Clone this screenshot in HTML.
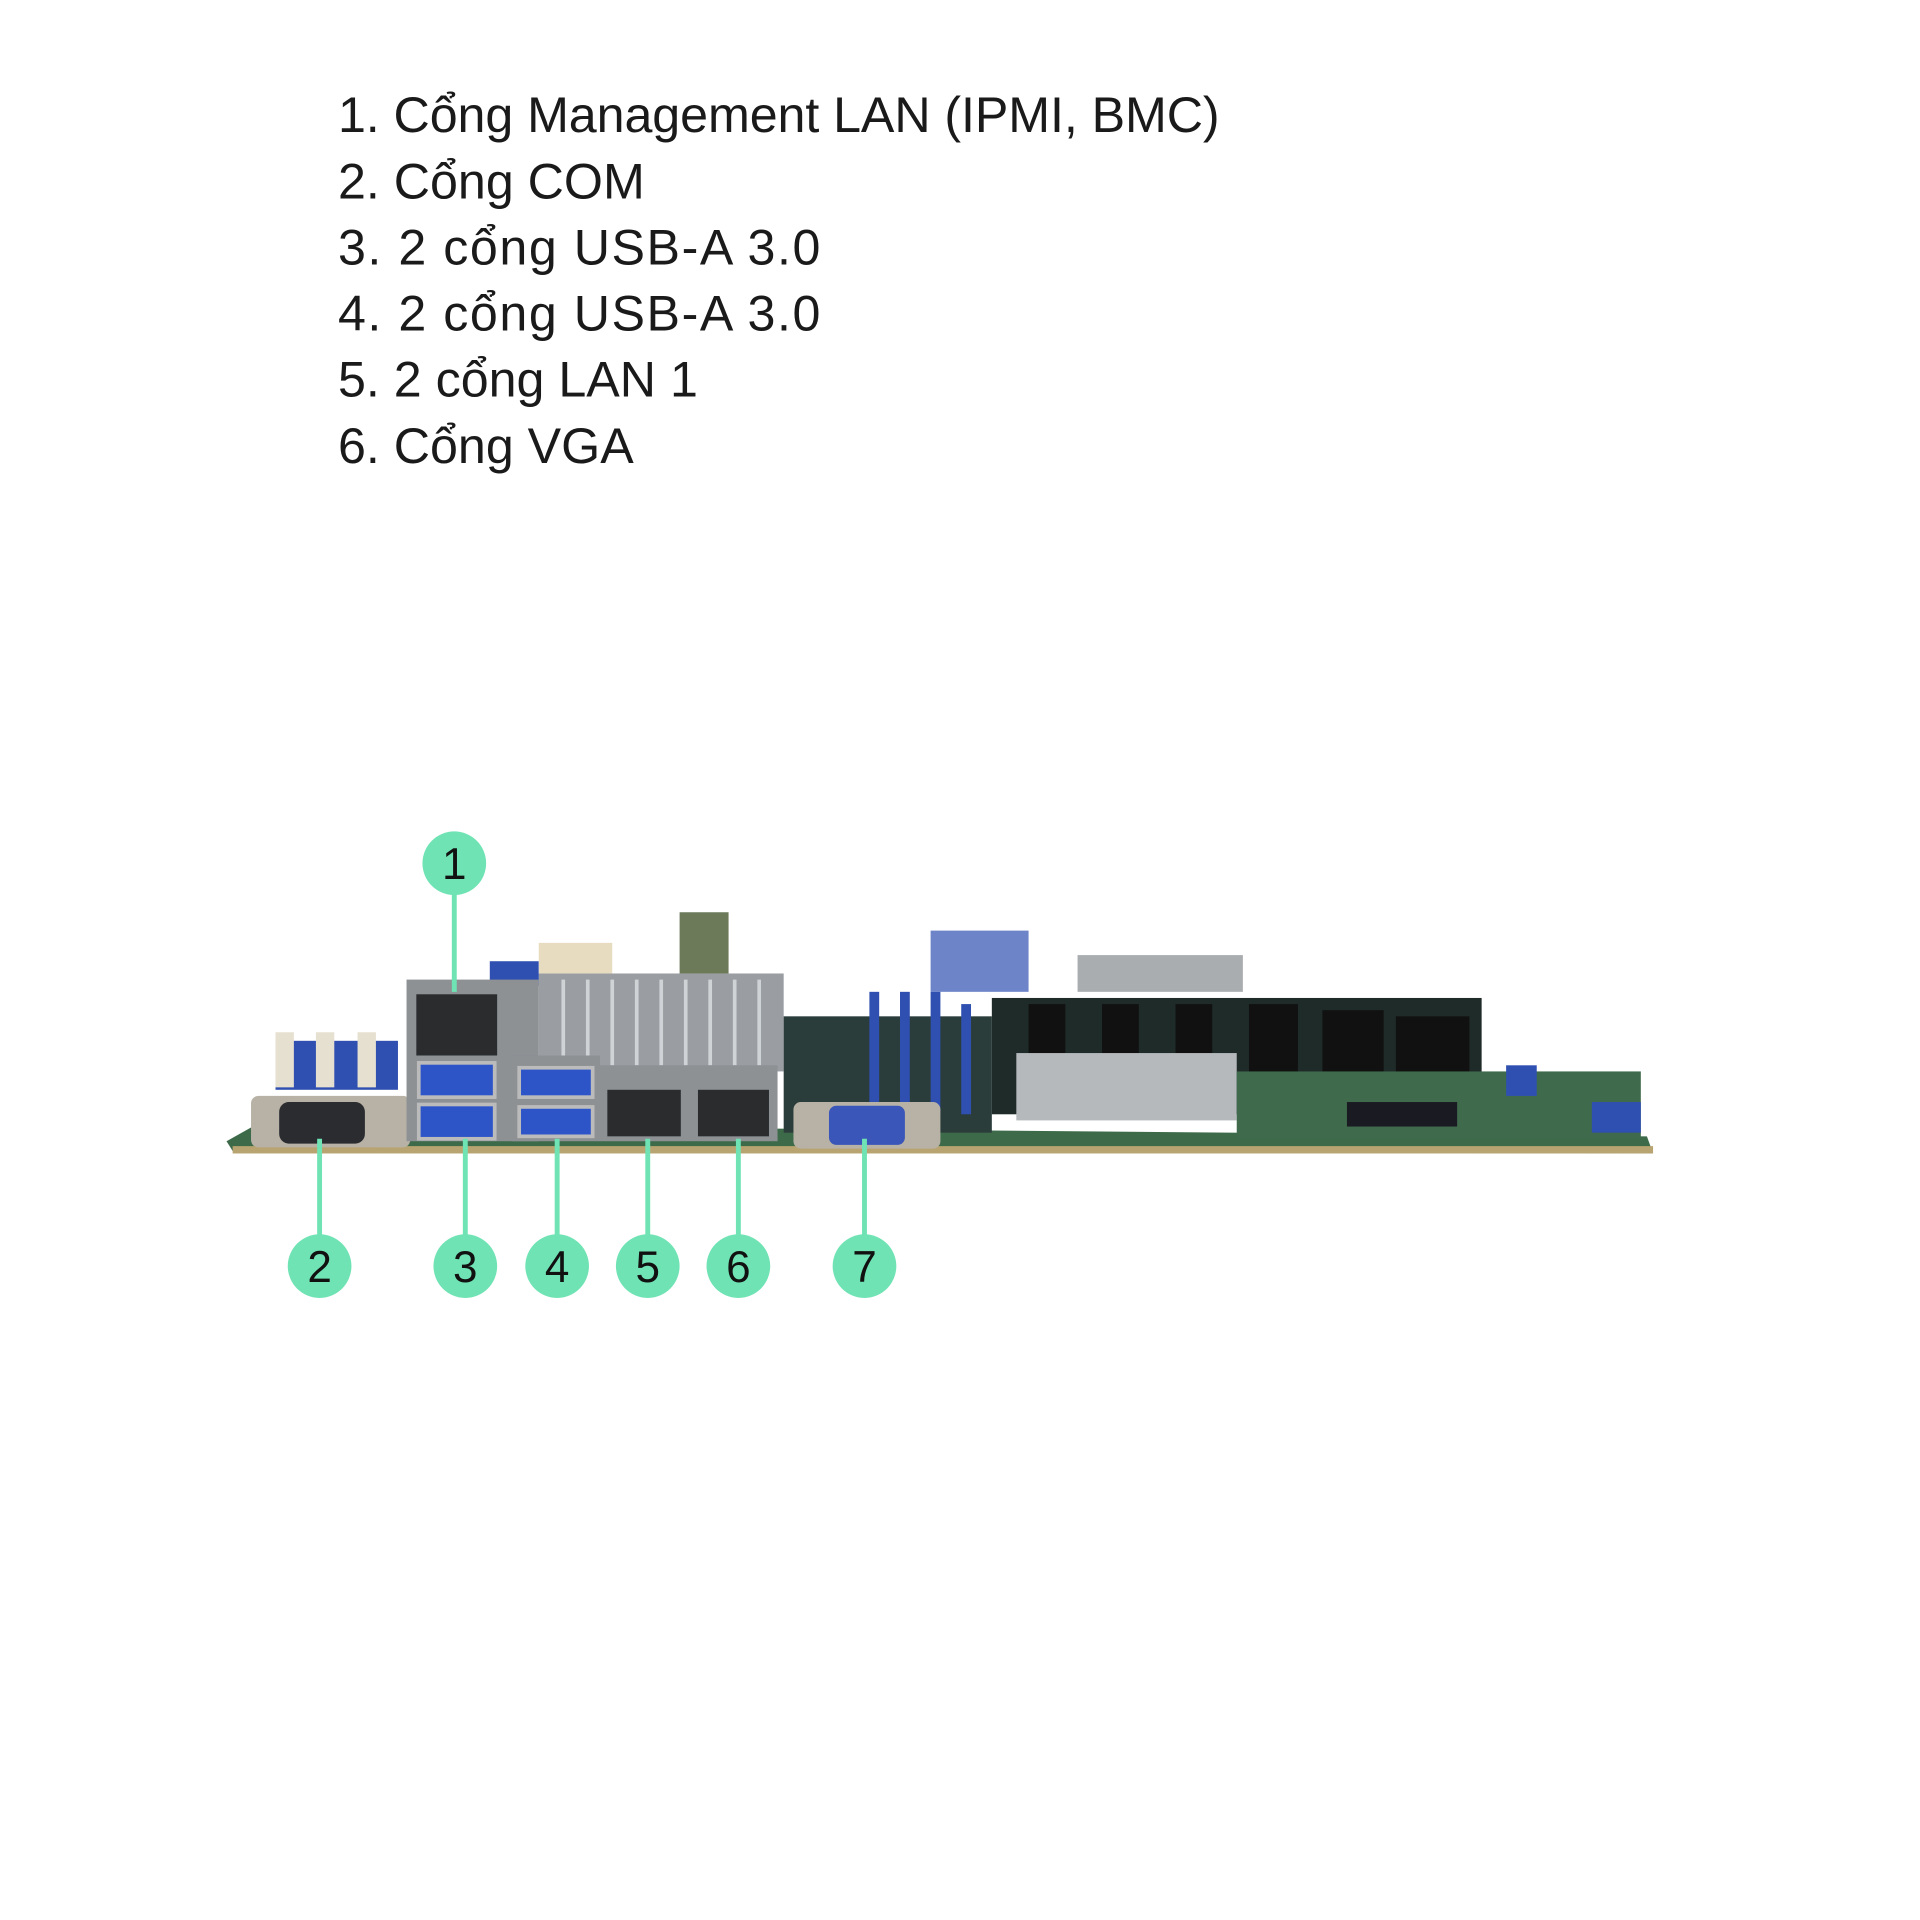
<!DOCTYPE html>
<html><head><meta charset="utf-8"><style>html,body{margin:0;padding:0;background:#fff}svg{display:block}</style></head>
<body>
<svg width="1920" height="1920" viewBox="0 0 1568 1568" xmlns="http://www.w3.org/2000/svg">
<rect width="1568" height="1568" fill="#fff"/>
<g font-family="Liberation Sans, DejaVu Sans, sans-serif" font-size="41" fill="#1a1a1a">
<text x="276" y="108" textLength="720">1. Cổng Management LAN (IPMI, BMC)</text>
<text x="276" y="162">2. Cổng COM</text>
<text x="276" y="216" textLength="394">3. 2 cổng USB-A 3.0</text>
<text x="276" y="270" textLength="394">4. 2 cổng USB-A 3.0</text>
<text x="276" y="324">5. 2 cổng LAN 1</text>
<text x="276" y="378">6. Cổng VGA</text>
</g>
<polygon points="185,932 210,918 1345,928 1350,942 190,940" fill="#3d6b4a"/>
<rect x="190" y="936" width="1160" height="6" fill="#b8a470"/>
<rect x="440" y="795" width="200" height="80" fill="#9a9ea3"/>
<g stroke="#cfd3d6" stroke-width="3">
<line x1="460" y1="800" x2="460" y2="870"/><line x1="480" y1="800" x2="480" y2="870"/><line x1="500" y1="800" x2="500" y2="870"/><line x1="520" y1="800" x2="520" y2="870"/><line x1="540" y1="800" x2="540" y2="870"/><line x1="560" y1="800" x2="560" y2="870"/><line x1="580" y1="800" x2="580" y2="870"/><line x1="600" y1="800" x2="600" y2="870"/><line x1="620" y1="800" x2="620" y2="870"/>
</g>
<rect x="640" y="830" width="170" height="95" fill="#2b3d3a"/>
<g fill="#2f50b0"><rect x="710" y="810" width="8" height="100"/><rect x="735" y="810" width="8" height="100"/><rect x="760" y="810" width="8" height="100"/><rect x="785" y="820" width="8" height="90"/></g>
<rect x="810" y="815" width="400" height="95" fill="#1f2b28"/>
<g fill="#111"><rect x="840" y="820" width="30" height="80"/><rect x="900" y="820" width="30" height="80"/><rect x="960" y="820" width="30" height="80"/><rect x="1020" y="820" width="40" height="80"/><rect x="1080" y="825" width="50" height="75"/><rect x="1140" y="830" width="60" height="70"/></g>
<rect x="830" y="860" width="180" height="55" fill="#b5b9bc"/>
<rect x="880" y="780" width="135" height="30" fill="#a9adb0"/>
<rect x="760" y="760" width="80" height="50" fill="#2f50b0" opacity="0.7"/>
<rect x="1010" y="875" width="330" height="55" fill="#3f6a4c"/>
<rect x="1100" y="900" width="90" height="20" fill="#1a1a22"/>
<rect x="1300" y="900" width="40" height="25" fill="#2f50b0"/>
<rect x="1230" y="870" width="25" height="25" fill="#2f50b0"/>
<rect x="555" y="745" width="40" height="50" fill="#6c7a5a"/>
<rect x="400" y="785" width="40" height="20" fill="#2f50b0"/>
<rect x="440" y="770" width="60" height="25" fill="#e8dcc0"/>
<rect x="225" y="850" width="100" height="40" fill="#2f50b0"/>
<g fill="#e6e0d0"><rect x="225" y="843" width="15" height="45"/><rect x="258" y="843" width="15" height="45"/><rect x="292" y="843" width="15" height="45"/></g>
<rect x="205" y="895" width="130" height="42" rx="6" fill="#b8b2a6"/>
<rect x="228" y="900" width="70" height="34" rx="8" fill="#2a2c30"/>
<rect x="332" y="800" width="108" height="132" fill="#8d9194"/>
<rect x="340" y="812" width="66" height="50" fill="#2a2c2e"/>
<rect x="342" y="868" width="62" height="28" fill="#2d55c8" stroke="#bbb" stroke-width="3"/>
<rect x="342" y="902" width="62" height="28" fill="#2d55c8" stroke="#bbb" stroke-width="3"/>
<rect x="418" y="862" width="72" height="70" fill="#8d9194"/>
<rect x="424" y="872" width="60" height="24" fill="#2d55c8" stroke="#bbb" stroke-width="3"/>
<rect x="424" y="904" width="60" height="24" fill="#2d55c8" stroke="#bbb" stroke-width="3"/>
<rect x="490" y="870" width="145" height="62" fill="#8d9194"/>
<rect x="496" y="890" width="60" height="38" fill="#2a2c2e"/>
<rect x="570" y="890" width="58" height="38" fill="#2a2c2e"/>
<rect x="648" y="900" width="120" height="38" rx="6" fill="#b8b2a6"/>
<rect x="677" y="903" width="62" height="32" rx="6" fill="#3a56b8"/>
<g stroke="#6fe3b4" stroke-width="4">
<line x1="371" y1="705" x2="371" y2="810"/>
<line x1="261" y1="930" x2="261" y2="1034"/>
<line x1="380" y1="930" x2="380" y2="1034"/>
<line x1="455" y1="930" x2="455" y2="1034"/>
<line x1="529" y1="930" x2="529" y2="1034"/>
<line x1="603" y1="930" x2="603" y2="1034"/>
<line x1="706" y1="930" x2="706" y2="1034"/>
</g>
<g fill="#6fe3b4">
<circle cx="371" cy="705" r="26"/><circle cx="261" cy="1034" r="26"/><circle cx="380" cy="1034" r="26"/><circle cx="455" cy="1034" r="26"/><circle cx="529" cy="1034" r="26"/><circle cx="603" cy="1034" r="26"/><circle cx="706" cy="1034" r="26"/>
</g>
<g font-family="Liberation Sans, DejaVu Sans, sans-serif" font-size="36" fill="#111" text-anchor="middle">
<text x="371" y="718">1</text><text x="261" y="1047">2</text><text x="380" y="1047">3</text><text x="455" y="1047">4</text><text x="529" y="1047">5</text><text x="603" y="1047">6</text><text x="706" y="1047">7</text>
</g>
</svg>
</body></html>
